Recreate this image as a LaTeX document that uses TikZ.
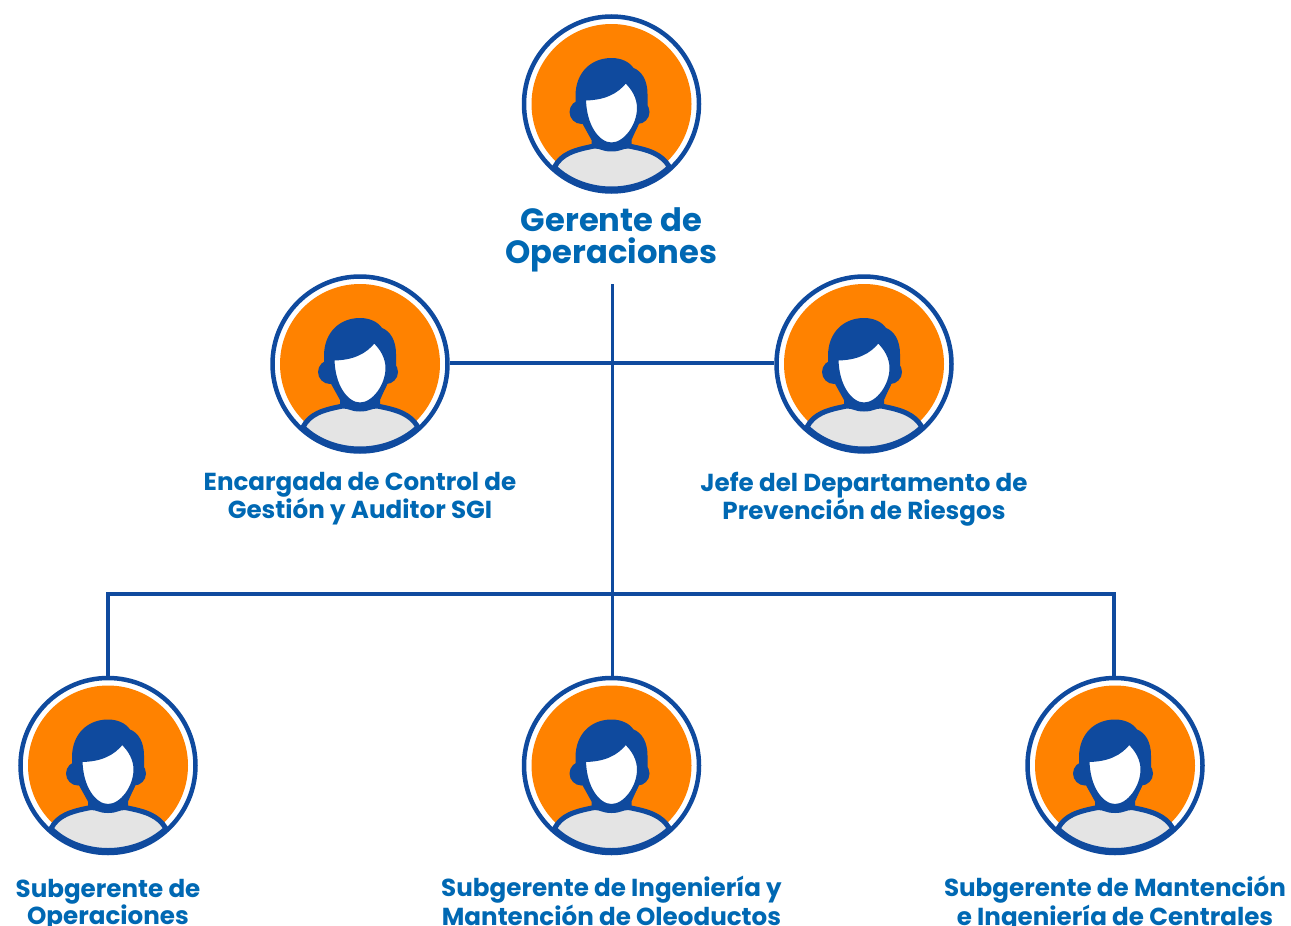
\documentclass[tikz,border=0pt]{standalone}
\usepackage{fontspec}
\setmainfont{Poppins}
\usetikzlibrary{positioning}
\definecolor{azul}{HTML}{0F4A9E}
\definecolor{texto}{HTML}{0068B3}
\definecolor{naranja}{HTML}{FF8200}
\definecolor{gris}{HTML}{E4E4E4}
\tikzset{
  avatar/.style={circle,draw=azul,fill=white,line width=4.5pt,minimum size=175pt,inner sep=0pt},
  linea/.style={draw=azul,line width=3.5pt},
  cargo/.style={text=texto,align=center,font=\bfseries\fontsize{24.6}{27}\selectfont,inner sep=0pt},
  persona/.pic={
    \fill[naranja] (0,0) circle (80);
    % orejas, pelo y cuello
    \fill[azul] (-30,8) circle (12);
    \fill[azul] (26,8) circle (12);
    \fill[azul] (-36,-8) .. controls (-36,-32) and (-20,-46) .. (0,-46)
       .. controls (10,-46) and (18,-42) .. (22,-36)
       .. controls (30,-33) and (36,-24) .. (36,-10) -- (36,4) -- (0,10) -- (-36,4) -- cycle;
    \fill[azul] (-30,18) -- (-20,36) -- (-20,44) -- (20,44) -- (20,36) -- (28,18) -- cycle;
    % cuerpo
    \draw[azul,fill=gris,line width=5pt,line join=round] (-57,63) .. controls (-50,50) and (-38,46) .. (-17,42)
       .. controls (-10,42) and (-9,45) .. (0,45) .. controls (9,45) and (10,42) .. (17,42)
       .. controls (38,46) and (50,50) .. (58,63)
       .. controls (42,78) and (20,85) .. (0,85) .. controls (-20,85) and (-42,78) .. (-57,63) -- cycle;
    % cara
    \draw[azul,fill=white,line width=5pt] (-28,-6) .. controls (-8,-6) and (5,-12) .. (14,-24)
       .. controls (23,-16) and (28,-6) .. (28,4)
       .. controls (28,22) and (14,41) .. (0,41)
       .. controls (-14,41) and (-28,22) .. (-28,-6) -- cycle;
  }
}
\begin{document}
\begin{tikzpicture}[x=1pt,y=-1pt]
  \useasboundingbox (0,0) rectangle (1291,926);
  \foreach \nombre/\px/\py in {gerente/611.5/104, encargada/360/364, jefe/864/364,
      subop/108/765.5, subing/611.5/765.5, submant/1115/765.5}
    {\node[avatar] (\nombre) at (\px,\py) {};
     \pic at (\nombre) {persona};}
  \node[cargo,font=\bfseries\fontsize{32.2}{32}\selectfont,below=14pt of gerente] (lgerente) {Gerente de\\Operaciones};
  \node[cargo,below=18.5pt of encargada] (lencargada) {Encargada de Control de\\Gestión y Auditor SGI};
  \node[cargo,below=18pt of jefe] (ljefe) {Jefe del Departamento de\\Prevención de Riesgos};
  \node[cargo,below=24pt of subop] (lsubop) {Subgerente de\\Operaciones};
  \node[cargo,below=21pt of subing] (lsubing) {Subgerente de Ingeniería y\\Mantención de Oleoductos};
  \node[cargo,below=21pt of submant] (lsubmant) {Subgerente de Mantención\\e Ingeniería de Centrales};
  \coordinate (tronco) at (612.5,284);
  \coordinate (barra) at (612.5,594);
  \draw[linea] (tronco) -- (tronco |- subing.north);
  \draw[linea] ([yshift=1pt]encargada.east) -- ([yshift=1pt]jefe.west);
  \draw[linea] (subop.north) |- (barra) -| ([xshift=-1pt]submant.north);
\end{tikzpicture}
\end{document}
